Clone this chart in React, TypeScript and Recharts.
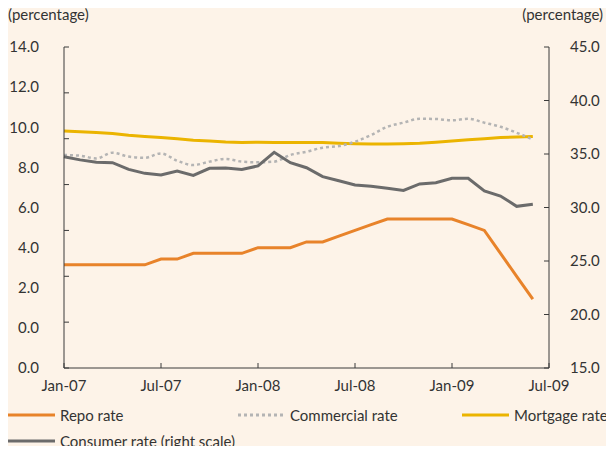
import React from "react";
import { LineChart, Line, XAxis, YAxis } from "recharts";

// month index 0 = Jan-07 ... 29 = Jun-09
const months = Array.from({ length: 30 }, (_, i) => i);

const repoRate = [
  4.5, 4.5, 4.5, 4.5, 4.5, 4.5, 4.75, 4.75, 5.0, 5.0, 5.0, 5.0, 5.25, 5.25, 5.25,
  5.5, 5.5, 5.75, 6.0, 6.25, 6.5, 6.5, 6.5, 6.5, 6.5, 6.25, 6.0, 5.0, 4.0, 3.0,
];
const commercialRate = [
  9.29, 9.26, 9.14, 9.39, 9.22, 9.17, 9.36, 9.04, 8.85, 9.0, 9.12, 9.0, 8.97, 9.0,
  9.29, 9.43, 9.61, 9.68, 9.87, 10.16, 10.52, 10.7, 10.87, 10.86, 10.8, 10.87,
  10.7, 10.52, 10.26, 9.97,
];
const mortgageRate = [
  10.34, 10.3, 10.27, 10.23, 10.15, 10.1, 10.05, 10.0, 9.93, 9.9, 9.86, 9.84, 9.85,
  9.84, 9.84, 9.83, 9.83, 9.8, 9.78, 9.77, 9.77, 9.78, 9.8, 9.85, 9.9, 9.96, 10.0,
  10.05, 10.07, 10.1,
];
const consumerRate = [
  34.75, 34.45, 34.22, 34.19, 33.56, 33.19, 33.04, 33.41, 33.0, 33.66, 33.7, 33.56,
  33.88, 35.16, 34.19, 33.72, 32.88, 32.5, 32.1, 31.98, 31.8, 31.6, 32.2, 32.32,
  32.73, 32.73, 31.54, 31.07, 30.11, 30.3,
];

const xTicks = [0, 6, 12, 18, 24, 30];
const xTickLabels = ["Jan-07", "Jul-07", "Jan-08", "Jul-08", "Jan-09", "Jul-09"];
const leftTicks = [0, 2, 4, 6, 8, 10, 12, 14];
// the source prints its left labels on a separate, evenly spread scale
const leftLabelTicks = [-2, 0, 2, 4, 6, 8, 10, 12, 14];
const rightTicks = [15, 20, 25, 30, 35, 40, 45];

const data = months.map((m, i) => ({
  m,
  repo: repoRate[i],
  commercial: commercialRate[i],
  mortgage: mortgageRate[i],
  consumer: consumerRate[i],
}));

const legendItems = [
  { name: "Repo rate", color: "#e8832a", dash: "" },
  { name: "Commercial rate", color: "#b4b4b4", dash: "3 3" },
  { name: "Mortgage rate", color: "#ebb400", dash: "" },
  { name: "Consumer rate (right scale)", color: "#6b6b6b", dash: "" },
];

const font = "Lato, 'Open Sans', sans-serif";
const tickStyle = { fill: "#333", fontSize: 15, fontFamily: font };

export default function App() {
  return (
    <div
      style={{
        position: "relative",
        width: 614,
        height: 454,
        margin: -8,
        background: "#fdf3e8",
        fontFamily: font,
        color: "#333",
        overflow: "hidden",
      }}
    >
      <div style={{ position: "absolute", left: 8, top: 5, fontSize: 15 }}>(percentage)</div>
      <div style={{ position: "absolute", right: 11, top: 5, fontSize: 15 }}>(percentage)</div>

      <LineChart
        width={614}
        height={400}
        data={data}
        margin={{ top: 47, right: 0, bottom: 0, left: 0 }}
      >
        <XAxis
          dataKey="m"
          type="number"
          domain={[0, 30]}
          ticks={xTicks}
          tickFormatter={(v: number) => xTickLabels[xTicks.indexOf(v)]}
          height={32}
          stroke="#3a3a3a"
          tickSize={-5}
          tickMargin={17}
          tick={tickStyle}
        />
        <YAxis
          yAxisId="left"
          domain={[0, 14]}
          ticks={leftTicks}
          width={1}
          stroke="#3a3a3a"
          tickSize={-5}
          tickFormatter={() => ""}
        />
        <YAxis
          yAxisId="leftLabels"
          domain={[-2, 14]}
          ticks={leftLabelTicks}
          width={63}
          axisLine={false}
          tickLine={false}
          tickSize={0}
          tickMargin={24}
          tickFormatter={(v: number) => Math.max(v, 0).toFixed(1)}
          tick={tickStyle}
        />
        <YAxis
          yAxisId="right"
          orientation="right"
          domain={[15, 45]}
          ticks={rightTicks}
          width={65}
          stroke="#3a3a3a"
          tickSize={-5}
          tickMargin={26}
          tickFormatter={(v: number) => v.toFixed(1)}
          tick={tickStyle}
        />
        {/* invisible series so the label axis gets drawn */}
        <Line
          yAxisId="leftLabels"
          dataKey="repo"
          stroke="none"
          dot={false}
          activeDot={false}
          legendType="none"
          isAnimationActive={false}
        />
        <Line
          yAxisId="left"
          dataKey="mortgage"
          stroke="#ebb400"
          strokeWidth={3}
          dot={false}
          isAnimationActive={false}
        />
        <Line
          yAxisId="left"
          type="monotone"
          dataKey="commercial"
          stroke="#b4b4b4"
          strokeWidth={2.5}
          strokeDasharray="3 3"
          dot={false}
          isAnimationActive={false}
        />
        <Line
          yAxisId="right"
          dataKey="consumer"
          stroke="#6b6b6b"
          strokeWidth={3}
          dot={false}
          isAnimationActive={false}
        />
        <Line
          yAxisId="left"
          dataKey="repo"
          stroke="#e8832a"
          strokeWidth={3}
          dot={false}
          isAnimationActive={false}
        />
      </LineChart>

      <div
        style={{
          position: "absolute",
          left: 8,
          top: 404,
          width: 606,
          display: "grid",
          gridTemplateColumns: "230px 224px 152px",
          rowGap: 4,
          fontSize: 15,
          lineHeight: "22px",
        }}
      >
        {legendItems.map((it) => (
          <div key={it.name} style={{ display: "flex", alignItems: "center", height: 22, whiteSpace: "nowrap" }}>
            <svg width={47} height={6} style={{ marginRight: 5, flex: "none" }}>
              <line
                x1={0}
                y1={3}
                x2={47}
                y2={3}
                stroke={it.color}
                strokeWidth={3}
                strokeDasharray={it.dash || undefined}
              />
            </svg>
            {it.name}
          </div>
        ))}
      </div>
    </div>
  );
}
